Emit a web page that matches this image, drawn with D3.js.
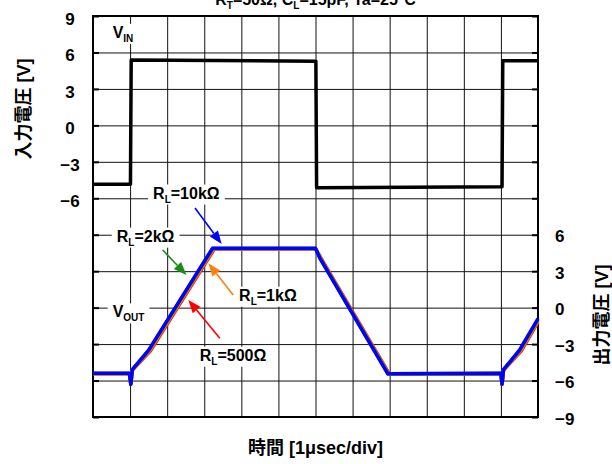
<!DOCTYPE html>
<html>
<head>
<meta charset="utf-8">
<script src="https://cdn.jsdelivr.net/npm/d3@7"></script>
<style>
  body { margin: 0; background: #fff; }
  text { font-family: 'Liberation Sans', Arial, 'Noto Sans CJK JP', sans-serif; font-weight: bold; }
</style>
</head>
<body>
<div id="chart"></div>
<script>
// grid / ticks
const timeGrid = [0, 1, 2, 3, 4, 5, 6, 7, 8, 9, 10, 11, 12];
const voltGrid = [9, 6, 3, 0, -3, -6, -9, -12, -15, -18, -21, -24];
const inTicks = [9, 6, 3, 0, -3, -6];
const outTicks = [6, 3, 0, -3, -6, -9];

// input square wave (left axis)
const vinTime = [0, 1.01, 1.03, 6.01, 6.03, 11.03, 11.05, 12];
const vinVolt = [-4.85, -4.85, 5.38, 5.28, -5.13, -5.05, 5.32, 5.32];

// output waveforms (right axis), drawn in this order
const seriesNames = ['500Ω', '1kΩ', '2kΩ', '10kΩ'];
const seriesColors = ['#ff1a00', '#ff8000', '#1f8f1f', '#0000ff'];
const r500Time = [0, 0.98, 1.02, 1.06, 1.55, 3.27, 6.01, 6.16, 7.99, 11.0, 11.03, 11.07, 11.55, 12];
const r500Volt = [-5.45, -5.45, -6.3, -5.15, -3.55, 4.82, 4.82, 4.02, -5.45, -5.45, -6.3, -5.15, -3.55, -1.2];
const r1kTime = [0, 0.98, 1.02, 1.06, 1.53, 3.25, 6.0, 6.14, 7.97, 11.0, 11.03, 11.07, 11.53, 12];
const r1kVolt = [-5.43, -5.43, -6.3, -5.12, -3.52, 4.85, 4.85, 4.03, -5.45, -5.43, -6.3, -5.12, -3.52, -1.08];
const r2kTime = [0, 0.98, 1.02, 1.06, 1.51, 3.23, 6.0, 6.13, 7.96, 11.0, 11.03, 11.07, 11.51, 12];
const r2kVolt = [-5.42, -5.42, -6.3, -5.1, -3.5, 4.87, 4.87, 4.04, -5.45, -5.42, -6.3, -5.1, -3.5, -0.98];
const r10kTime = [0, 0.98, 1.02, 1.06, 1.5, 3.22, 6.0, 6.12, 7.95, 11.0, 11.03, 11.07, 11.5, 12];
const r10kVolt = [-5.4, -5.4, -6.3, -5.1, -3.5, 4.88, 4.88, 4.05, -5.45, -5.4, -6.3, -5.1, -3.5, -0.9];
const seriesTimes = [r500Time, r1kTime, r2kTime, r10kTime];
const seriesVolts = [r500Volt, r1kVolt, r2kVolt, r10kVolt];

// annotations (time / right-axis volts)
const annNames = ['10kΩ', '2kΩ', '1kΩ', '500Ω'];
const annColors = ['#0000ff', '#1a8a1a', '#ff7f0e', '#ff0000'];
const annLabelT = [1.62, 0.64, 3.94, 2.88];
const annLabelV = [8.98, 5.43, 0.57, -4.37];
const annTailT = [2.75, 1.88, 3.78, 3.42];
const annTailV = [8.2, 4.74, 1.04, -2.52];
const annTipT = [3.47, 2.52, 3.11, 2.57];
const annTipV = [5.24, 2.69, 3.65, 0.63];

const margin = { top: 16, right: 74, bottom: 47, left: 93 };
const width = 612 - margin.left - margin.right;
const height = 464 - margin.top - margin.bottom;

const x = d3.scaleLinear().domain([0, 12]).range([0, width]);
const yIn = d3.scaleLinear().domain([-24, 9]).range([height, 0]);
const yOut = d3.scaleLinear().domain([-9, 24]).range([height, 0]);

const root = d3
  .select('#chart')
  .append('svg')
  .attr('width', 612)
  .attr('height', 464);

const svg = root
  .append('g')
  .attr('transform', 'translate(' + margin.left + ',' + margin.top + ')');

// title, mostly cut off at the top edge as in the original
const title = root
  .append('text')
  .attr('x', margin.left + width / 2)
  .attr('y', 5)
  .attr('text-anchor', 'middle')
  .style('font-size', '16px');
title.append('tspan').text('R');
title.append('tspan').attr('dy', 4).style('font-size', '10px').text('T');
title.append('tspan').attr('dy', -4).text('=50Ω, C');
title.append('tspan').attr('dy', 4).style('font-size', '10px').text('L');
title.append('tspan').attr('dy', -4).text('=15pF, Ta=25°C');

// grid
svg
  .append('g')
  .attr('class', 'grid')
  .call(d3.axisBottom(x).tickValues(timeGrid).tickSize(height).tickFormat(''))
  .call(g => g.select('.domain').remove());
svg
  .append('g')
  .attr('class', 'grid')
  .call(d3.axisLeft(yIn).tickValues(voltGrid).tickSize(-width).tickFormat(''))
  .call(g => g.select('.domain').remove());
svg.selectAll('.grid line').attr('stroke', '#111').attr('stroke-width', 1);

// short inner ticks on the frame
svg
  .append('g')
  .attr('class', 'frameticks')
  .call(d3.axisLeft(yIn).tickValues(voltGrid).tickSize(-6).tickFormat(''));
svg
  .append('g')
  .attr('class', 'frameticks')
  .attr('transform', 'translate(' + width + ',0)')
  .call(d3.axisRight(yIn).tickValues(voltGrid).tickSize(-6).tickFormat(''));
svg.selectAll('.frameticks line').attr('stroke', '#000').attr('stroke-width', 2);
svg.selectAll('.frameticks .domain').remove();

svg
  .append('rect')
  .attr('width', width)
  .attr('height', height)
  .attr('fill', 'none')
  .attr('stroke', '#000')
  .attr('stroke-width', 2);

// axis labels
const leftAxis = svg
  .append('g')
  .call(d3.axisLeft(yIn).tickValues(inTicks).tickSize(0).tickFormat(d3.format('d')));
leftAxis.select('.domain').remove();
leftAxis
  .selectAll('text')
  .attr('x', -23)
  .attr('dy', '0.5em')
  .attr('text-anchor', 'middle')
  .style('font-size', '17px')
  .style('font-family', "'Liberation Sans', Arial, sans-serif")
  .attr('fill', '#000');

const rightAxis = svg
  .append('g')
  .attr('transform', 'translate(' + width + ',0)')
  .call(d3.axisRight(yOut).tickValues(outTicks).tickSize(0).tickFormat(d3.format('d')));
rightAxis.select('.domain').remove();
rightAxis
  .selectAll('text')
  .attr('x', 17)
  .attr('dy', '0.42em')
  .attr('text-anchor', 'start')
  .style('font-size', '17px')
  .style('font-family', "'Liberation Sans', Arial, sans-serif")
  .attr('fill', '#000');

root
  .append('text')
  .attr('transform', 'translate(30,' + (margin.top + 93) + ') rotate(-90)')
  .attr('text-anchor', 'middle')
  .style('font-size', '18px')
  .text('入力電圧 [V]');

root
  .append('text')
  .attr('transform', 'translate(608,' + (margin.top + 299) + ') rotate(-90)')
  .attr('text-anchor', 'middle')
  .style('font-size', '18px')
  .text('出力電圧 [V]');

root
  .append('text')
  .attr('x', margin.left + width / 2)
  .attr('y', 454)
  .attr('text-anchor', 'middle')
  .style('font-size', '18px')
  .text('時間 [1μsec/div]');

// waveforms
const lineIn = d3
  .line()
  .x(i => x(vinTime[i]))
  .y(i => yIn(vinVolt[i]));

svg
  .append('path')
  .datum(d3.range(vinTime.length))
  .attr('d', lineIn)
  .attr('fill', 'none')
  .attr('stroke', '#000')
  .attr('stroke-width', 3.5)
  .attr('stroke-linejoin', 'round');

seriesNames.forEach(function(name, s) {
  const line = d3
    .line()
    .x(i => x(seriesTimes[s][i]))
    .y(i => yOut(seriesVolts[s][i]));
  svg
    .append('path')
    .datum(d3.range(seriesTimes[s].length))
    .attr('class', 'vout')
    .attr('d', line)
    .attr('fill', 'none')
    .attr('stroke', seriesColors[s])
    .attr('stroke-width', 3.5)
    .attr('stroke-linejoin', 'round');
});

// labels with white boxes
function boxedLabel(px, py, base, sub, rest) {
  const g = svg.append('g');
  const t = g
    .append('text')
    .attr('x', px)
    .attr('y', py)
    .style('font-size', '16px')
    .attr('fill', '#000');
  t.append('tspan').text(base);
  t.append('tspan').attr('dy', 4).style('font-size', '10px').text(sub);
  if (rest) {
    t.append('tspan').attr('dy', -4).text(rest);
  }
  const b = t.node().getBBox();
  g.insert('rect', 'text')
    .attr('x', b.x - 5)
    .attr('y', b.y)
    .attr('width', b.width + 10)
    .attr('height', b.height)
    .attr('fill', '#fff');
}

boxedLabel(x(0.53), yIn(7.2), 'V', 'IN');
boxedLabel(x(0.53), yOut(-0.8), 'V', 'OUT');

annNames.forEach(function(name, k) {
  boxedLabel(x(annLabelT[k]), yOut(annLabelV[k]), 'R', 'L', '=' + name);

  const x0 = x(annTailT[k]);
  const y0 = yOut(annTailV[k]);
  const x1 = x(annTipT[k]);
  const y1 = yOut(annTipV[k]);
  const a = Math.atan2(y1 - y0, x1 - x0);
  const hl = 13;
  const hw = 5;
  const bx = x1 - hl * Math.cos(a);
  const by = y1 - hl * Math.sin(a);

  svg
    .append('line')
    .attr('x1', x0)
    .attr('y1', y0)
    .attr('x2', bx)
    .attr('y2', by)
    .attr('stroke', annColors[k])
    .attr('stroke-width', 1.6);
  svg
    .append('path')
    .attr(
      'd',
      'M' + x1 + ',' + y1 +
        'L' + (bx + hw * Math.sin(a)) + ',' + (by - hw * Math.cos(a)) +
        'L' + (bx - hw * Math.sin(a)) + ',' + (by + hw * Math.cos(a)) + 'Z'
    )
    .attr('fill', annColors[k]);
});
</script>
</body>
</html>
